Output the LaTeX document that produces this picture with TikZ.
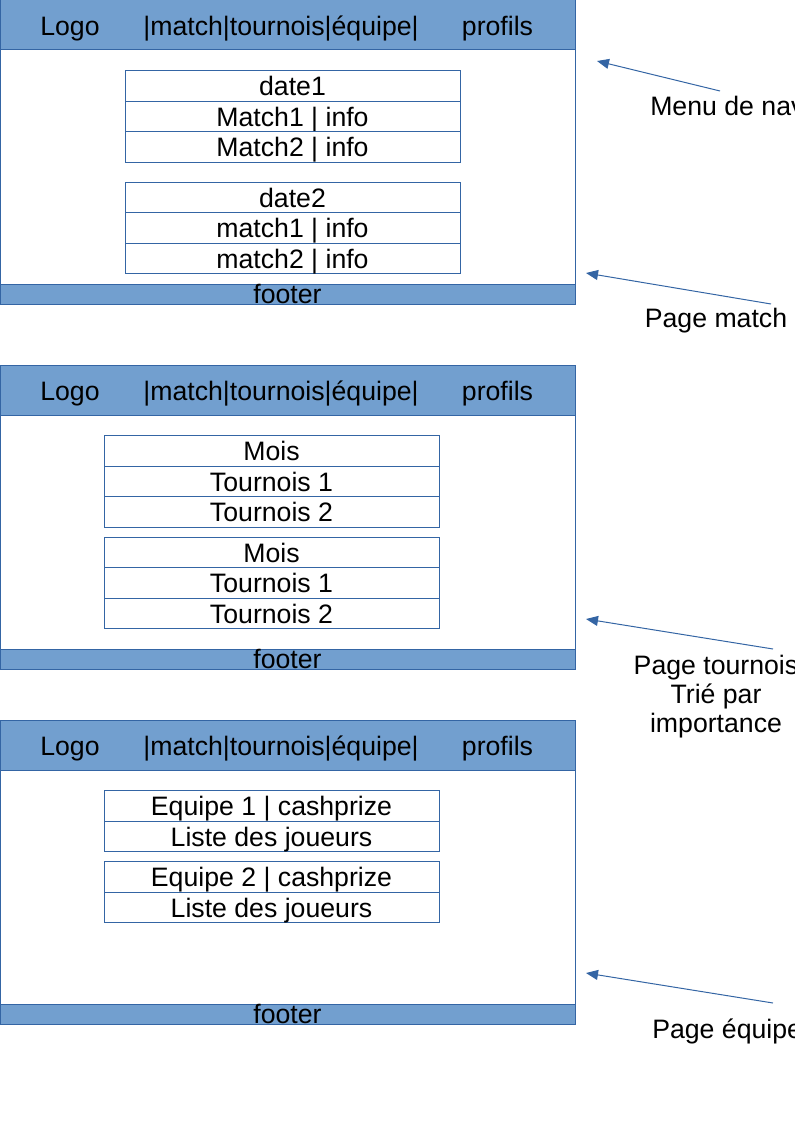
\documentclass[tikz,border=0pt]{standalone}
\usepackage{fontspec}
\setmainfont{Liberation Sans}
\usetikzlibrary{positioning,arrows.meta}
\definecolor{barfill}{HTML}{729FCF}
\definecolor{barline}{HTML}{3465A4}
\tikzset{
    frame/.style={draw=barline,fill=white,line width=0.75pt,inner sep=0pt,outer sep=0pt,minimum width=431.25pt},
    bar/.style={frame,fill=barfill},
    words/.style={inner sep=0pt,font=\fontsize{20}{21.75}\selectfont},
    txt/.style={words,text height=14.3pt,text depth=0pt},
    cell/.style={draw=barline,line width=0.75pt,fill=white,inner sep=0pt,outer sep=0pt,
        minimum width=251.25pt,minimum height=22.875pt,text height=14.3pt,text depth=0pt,
        font=\fontsize{20}{24}\selectfont},
    note/.style={draw=barline,line width=0.75pt,-{Triangle[length=9pt,width=7.5pt]}}
}
\begin{document}
\begin{tikzpicture}[x=0.75pt,y=-0.75pt]
                \useasboundingbox (0,0) rectangle (794,1123);
                \foreach \p/\y in {a/0,b/365,c/720}{
                    \node[frame,minimum height=228pt] (frame-\p) at (287.5,\y+152) {};
                    \node[bar,minimum height=37.5pt] (head-\p) at (287.5,\y+25) {};
                    \node[bar,minimum height=15pt] (foot-\p) at (287.5,\y+294) {};
                    \node[txt] (logo-\p) at (70,\y+25.5) {Logo};
                    \node[txt] (menu-\p) at (281,\y+25.5) {|match|tournois|équipe|};
                    \node[txt] (prof-\p) at (497.5,\y+25.5) {profils};
                    \node[txt] (footer-\p) at (287.5,\y+293.5) {footer};
                }
                \node[cell] (date1) at (292.5,86) {date1};
                \node[cell,below=0pt of date1] (m11) {Match1 | info};
                \node[cell,below=0pt of m11] (m12) {Match2 | info};
                \node[cell] (date2) at (292.5,197.5) {date2};
                \node[cell,below=0pt of date2] (m21) {match1 | info};
                \node[cell,below=0pt of m21] (m22) {match2 | info};
                \node[cell] (mois1) at (271.5,451) {Mois};
                \node[cell,below=0pt of mois1] (t11) {Tournois 1};
                \node[cell,below=0pt of t11] (t12) {Tournois 2};
                \node[cell] (mois2) at (271.5,552.5) {Mois};
                \node[cell,below=0pt of mois2] (t21) {Tournois 1};
                \node[cell,below=0pt of t21] (t22) {Tournois 2};
                \node[cell] (eq1) at (271.5,806) {Equipe 1 | cashprize};
                \node[cell,below=0pt of eq1] (j1) {Liste des joueurs};
                \node[cell] (eq2) at (271.5,877) {Equipe 2 | cashprize};
                \node[cell,below=0pt of eq2] (j2) {Liste des joueurs};
                \node[txt,anchor=west] (navnote) at (650,105.5) {Menu de navigation};
                \node[txt] (matchnote) at (716,318) {Page match};
                \node[words,align=center,anchor=north] (tournote) at (716,655) {Page tournois\\Trié par\\importance};
                \node[txt,anchor=west] (eqnote) at (652,1028.5) {Page équipe};
                \coordinate (nav-from) at (720,91);
                \coordinate (nav-to) at (597,61);
                \coordinate (match-from) at (771,304);
                \coordinate (match-to) at (586,273);
                \coordinate (tour-from) at (773,649);
                \coordinate (tour-to) at (586,619);
                \coordinate (eq-from) at (773,1003);
                \coordinate (eq-to) at (586,973);
                \draw[note] (nav-from) -- (nav-to);
                \draw[note] (match-from) -- (match-to);
                \draw[note] (tour-from) -- (tour-to);
                \draw[note] (eq-from) -- (eq-to);
            \end{tikzpicture}
\end{document}
